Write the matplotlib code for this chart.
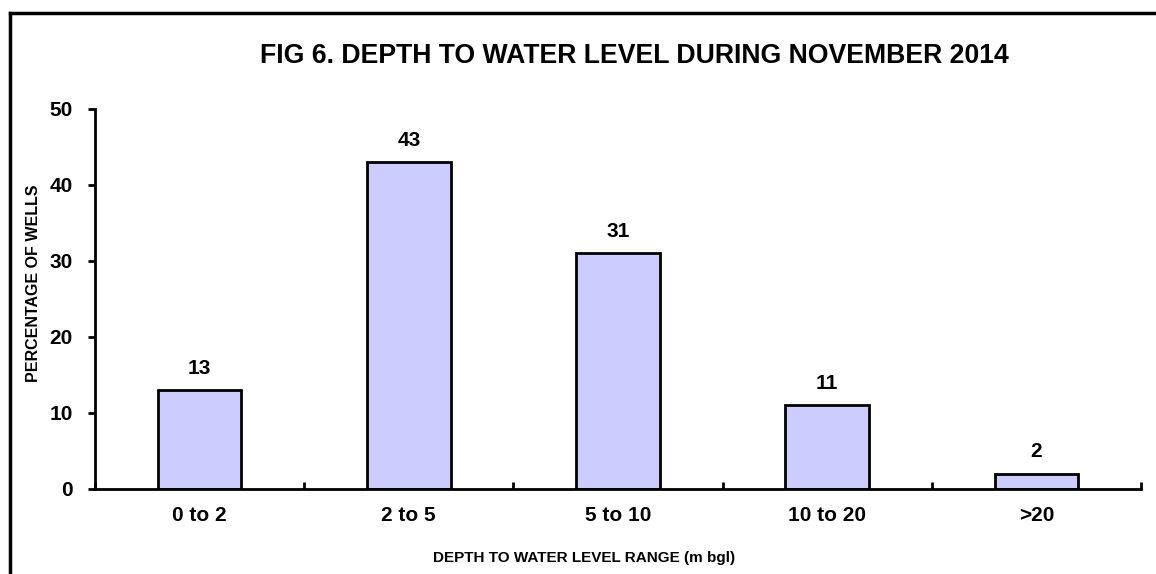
import matplotlib
matplotlib.use("Agg")
import matplotlib.pyplot as plt
from matplotlib.lines import Line2D
import numpy as np

categories = ["0 to 2", "2 to 5", "5 to 10", "10 to 20", ">20"]
values = [13, 43, 31, 11, 2]
yticks = [0, 10, 20, 30, 40, 50]

plt.rcParams['font.family'] = ['Liberation Sans', 'DejaVu Sans']
plt.rcParams['font.weight'] = 'bold'

W, H = 1156, 574
fig = plt.figure(figsize=(W / 100, H / 100), dpi=100)
ax = fig.add_axes([95 / W, 1 - 489 / H, (1141 - 95) / W, (489 - 109) / H])

x = np.arange(len(categories))
bars = ax.bar(x, values, width=0.4, color="#CCCCFF", edgecolor="black", linewidth=2, zorder=2)

for xi, v in zip(x, values):
    ax.annotate(str(v), (xi, v), xytext=(0, 9), textcoords="offset points",
                ha="center", va="bottom", fontsize=15, fontweight="bold")

ax.set_xlim(-0.5, len(categories) - 0.5)
ax.set_ylim(0, 50)
ax.set_yticks(yticks)
ax.set_yticklabels([str(t) for t in yticks], fontsize=15, fontweight="bold")
ax.set_xticks(x)
ax.set_xticklabels(categories, fontsize=15, fontweight="bold")
ax.tick_params(axis="x", which="major", length=0, pad=12)
ax.set_xticks(np.arange(-0.5, len(categories), 1.0), minor=True)
ax.tick_params(axis="x", which="minor", direction="in", length=5, width=2)
ax.tick_params(axis="y", direction="out", length=5, width=2, pad=11)

for s in ["top", "right"]:
    ax.spines[s].set_visible(False)
for s in ["left", "bottom"]:
    ax.spines[s].set_linewidth(2)

fig.text(34 / W, 1 - 283 / H, "PERCENTAGE OF WELLS", rotation=90,
         ha="center", va="center", fontsize=11.5, fontweight="bold")
fig.text(584 / W, 1 - 558 / H, "DEPTH TO WATER LEVEL RANGE (m bgl)",
         ha="center", va="center", fontsize=11, fontweight="bold")

fig.text(634 / W, 1 - 56 / H, "FIG 6. DEPTH TO WATER LEVEL DURING NOVEMBER 2014",
         ha="center", va="center", fontsize=19.2, fontweight="bold")

# figure border (left and top visible)
fig.add_artist(Line2D([10 / W, 10 / W], [0, 1 - 13 / H], transform=fig.transFigure, color="black", lw=2.5))
fig.add_artist(Line2D([10 / W, 1], [1 - 13 / H, 1 - 13 / H], transform=fig.transFigure, color="black", lw=2.5))

fig.savefig("out.png", dpi=100)
